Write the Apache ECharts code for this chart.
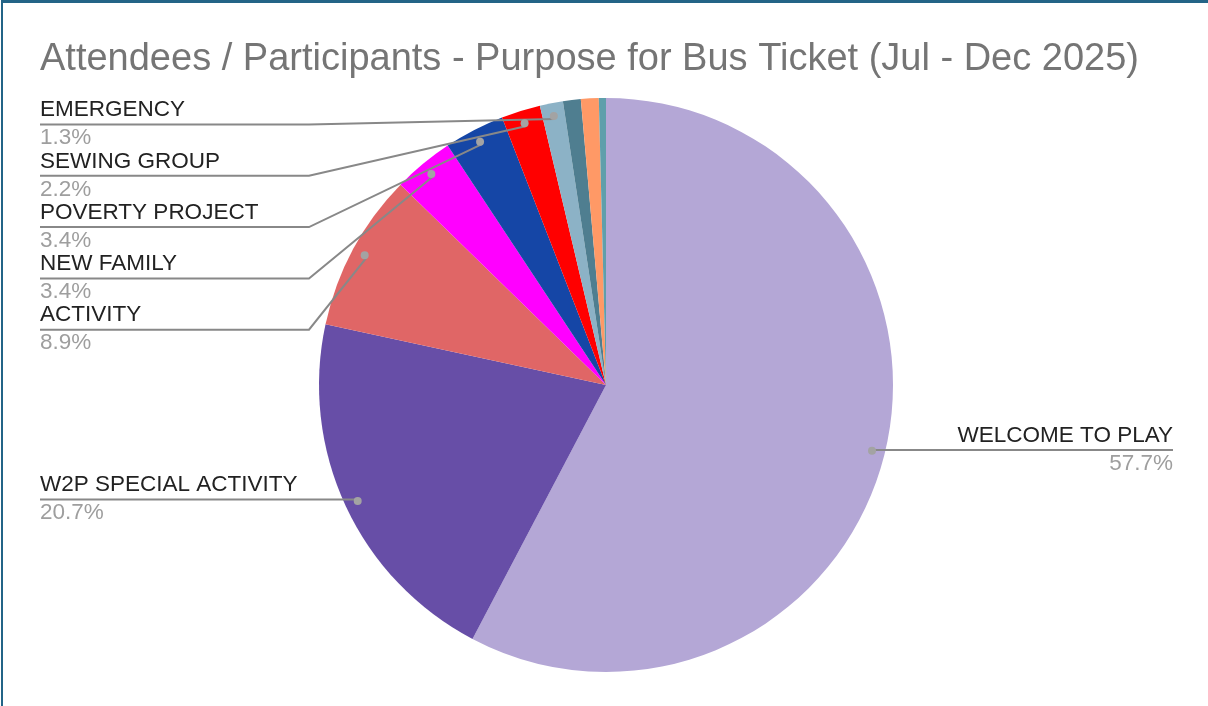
<!DOCTYPE html>
<html>
<head>
<meta charset="utf-8">
<script src="https://cdn.jsdelivr.net/npm/echarts@6/dist/echarts.min.js"></script>
<style>
  html, body { margin: 0; padding: 0; background: #ffffff; }
  #chart { position: absolute; left: 0; top: 0; width: 1208px; height: 706px; }
  #frame {
    position: absolute; left: 1px; top: 0; width: 1207px; height: 706px;
    box-sizing: border-box; pointer-events: none;
    border-top: 3px solid #236487; border-left: 2px solid #236487;
  }
</style>
</head>
<body>
<div id="chart"></div>
<div id="frame"></div>
<script>
// Purpose for bus tickets, share of attendees / participants (Jul - Dec 2025)
const titleText = 'Attendees / Participants - Purpose for Bus Ticket (Jul - Dec 2025)';
const categories = [
  'WELCOME TO PLAY', 'W2P SPECIAL ACTIVITY', 'ACTIVITY', 'NEW FAMILY',
  'POVERTY PROJECT', 'SEWING GROUP', 'EMERGENCY', 'OTHER 1', 'OTHER 2', 'OTHER 3'
];
const values = [57.7, 20.7, 8.9, 3.4, 3.4, 2.2, 1.3, 1.0, 1.0, 0.4];
const colors = [
  '#b4a7d6', '#674ea7', '#e06666', '#ff00ff', '#1546a6',
  '#ff0000', '#8cb2c6', '#4f7e90', '#ff9966', '#5f9fab'
];

// layout of the pie and its callouts
const CX = 606, CY = 385, R = 287;
const DOT_R = 271;            // radius where callout lines start
const LEFT_X = 40, RIGHT_X = 1173, KNEE_X = 309;
const STACK_TOP = 124.5, STACK_STEP = 51.3;
const LABEL_MIN = 1.2;        // slices smaller than this get no callout
const FONT = '"Liberation Sans", Arial, sans-serif';

const labeled = values.map(v => v >= LABEL_MIN);
const lastLabeled = labeled.lastIndexOf(true);

function anchorFrom(edgePoint) {
  const a = Math.atan2(edgePoint[1] - CY, edgePoint[0] - CX);
  return [CX + DOT_R * Math.cos(a), CY + DOT_R * Math.sin(a)];
}

function calloutLayout(params) {
  const i = params.dataIndex;
  const pts = params.labelLinePoints;
  if (!labeled[i] || !pts) return {};
  const a = anchorFrom(pts[0]);
  if (a[0] > CX) {
    return {
      x: RIGHT_X, y: a[1] - 0.5, align: 'right', verticalAlign: 'middle',
      labelLinePoints: [a, [(a[0] + RIGHT_X) / 2, a[1]], [RIGHT_X, a[1]]]
    };
  }
  if (a[1] > CY) {
    return {
      x: LEFT_X, y: a[1] - 0.5, align: 'left', verticalAlign: 'middle',
      labelLinePoints: [a, [(a[0] + LEFT_X) / 2, a[1]], [LEFT_X, a[1]]]
    };
  }
  const k = lastLabeled - i;
  const L = STACK_TOP + STACK_STEP * k;
  return {
    x: LEFT_X, y: L - 0.5, align: 'left', verticalAlign: 'middle',
    labelLinePoints: [a, [KNEE_X, L], [LEFT_X, L]]
  };
}

const clear = 'rgba(0,0,0,0)';
const pieBase = { type: 'pie', center: [CX, CY], startAngle: 90, clockwise: true };

const chart = echarts.init(document.getElementById('chart'), null, { renderer: 'canvas' });

chart.setOption({
  animation: false,
  backgroundColor: '#ffffff',
  color: colors,
  title: {
    text: titleText,
    left: 40,
    top: 41,
    padding: 0,
    textStyle: { fontFamily: FONT, fontSize: 38, fontWeight: 'normal', color: '#757575' }
  },
  series: [
    // the slices
    Object.assign({}, pieBase, {
      radius: R,
      z: 2,
      itemStyle: { borderWidth: 0 },
      emphasis: { disabled: true },
      label: { show: false },
      labelLine: { show: false },
      data: values.map((v, i) => ({ value: v, name: categories[i] }))
    }),
    // callout labels and their lines, drawn over the slices
    Object.assign({}, pieBase, {
      radius: R,
      z: 4,
      silent: true,
      avoidLabelOverlap: false,
      percentPrecision: 1,
      itemStyle: { color: clear, borderWidth: 0 },
      label: {
        show: true,
        position: 'outside',
        fontFamily: FONT,
        formatter: p => '{n|' + p.name + '}\n{p|' + p.percent.toFixed(1) + '%}',
        rich: {
          n: { fontFamily: FONT, fontSize: 22.5, color: '#222222', lineHeight: 28 },
          p: { fontFamily: FONT, fontSize: 22.5, color: '#9e9e9e', lineHeight: 28 }
        }
      },
      labelLine: {
        show: true, length: 10, length2: 10, smooth: false,
        lineStyle: { color: '#888888', width: 2 }
      },
      labelLayout: calloutLayout,
      data: values.map((v, i) => ({
        value: v,
        name: categories[i],
        itemStyle: { color: clear },
        label: { show: labeled[i] },
        labelLine: { show: labeled[i] }
      }))
    }),
    // dots where the callout lines meet the slices
    Object.assign({}, pieBase, {
      radius: [DOT_R - 16, DOT_R + 16],
      z: 5,
      silent: true,
      itemStyle: { color: clear, borderWidth: 0 },
      label: {
        show: true,
        position: 'inside',
        formatter: '{d|}',
        rich: { d: { width: 8, height: 8, borderRadius: 4, backgroundColor: '#a3a3a3' } }
      },
      labelLine: { show: false },
      data: values.map((v, i) => ({
        value: v,
        name: categories[i],
        itemStyle: { color: clear },
        label: { show: labeled[i] }
      }))
    })
  ]
});
</script>
</body>
</html>
